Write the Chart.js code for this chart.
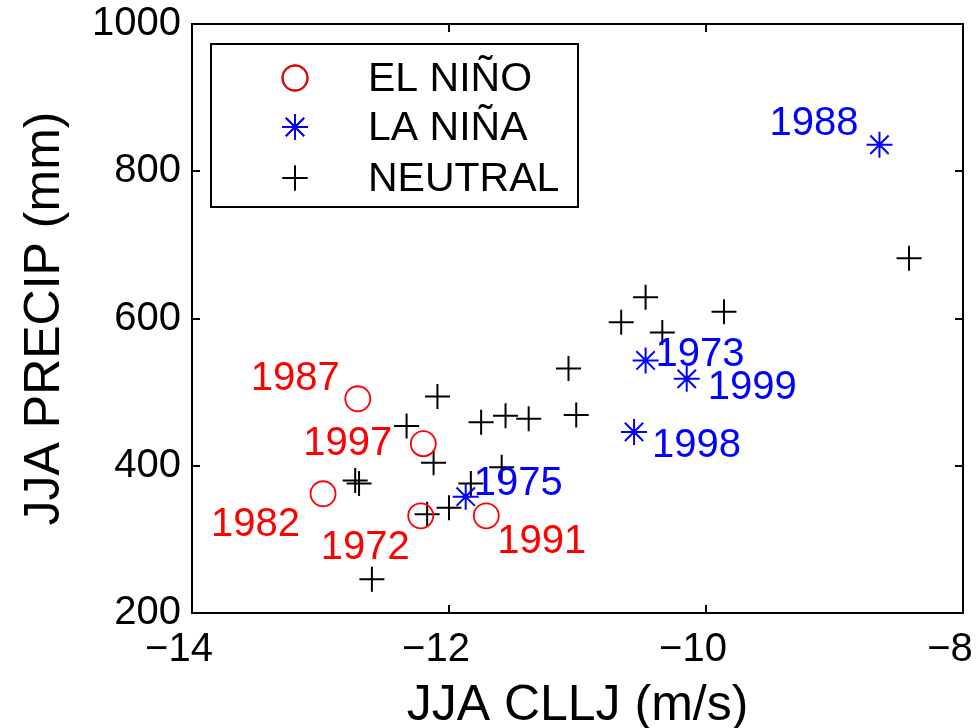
<!DOCTYPE html>
<html>
<head>
<meta charset="utf-8">
<script src="https://cdn.jsdelivr.net/npm/chart.js"></script>
<style>
  html, body { margin: 0; padding: 0; background: #fff; }
  #wrap { width: 978px; height: 728px; }
</style>
</head>
<body>
<div id="wrap"><canvas id="c" width="978" height="728"></canvas></div>
<script>
// ---------------- DATA ----------------
const elNinoYears  = [1987, 1997, 1982, 1972, 1991];
const elNinoCllj   = [-12.71, -12.20, -12.98, -12.22, -11.71];
const elNinoPrecip = [491, 430, 362, 332, 332];

const laNinaYears  = [1975, 1973, 1999, 1998, 1988];
const laNinaCllj   = [-11.87, -10.47, -10.15, -10.56, -8.65];
const laNinaPrecip = [358, 543, 518, 446, 836];

const neutralCllj   = [-8.42, -10.47, -10.66, -10.34, -9.86, -11.07, -11.01, -12.09, -11.75, -11.56,
                       -11.38, -12.33, -12.12, -12.73, -12.70, -11.59, -11.83, -12.00, -12.17, -12.60];
const neutralPrecip = [682, 629, 595, 581, 609, 532, 469, 494, 459, 468,
                       464, 454, 404, 380, 376, 398, 376, 343, 334, 246];

const seriesNames = ['EL NI\u00D1O', 'LA NI\u00D1A', 'NEUTRAL'];
const xTickValues = [-14, -12, -10, -8];
const yTickValues = [200, 400, 600, 800, 1000];
const xTitle = 'JJA CLLJ (m/s)';
const yTitle = 'JJA PRECIP (mm)';

// ---------------- STYLE ----------------
const FONT = '"Liberation Sans", Arial, Helvetica, sans-serif';
const RED = '#ff0000', BLUE = '#0000ff', BLACK = '#000000';

// label offsets (pixels) relative to each point: [dx, dy, align]
const labelOffsets = {
  1987: [-18, -20, 'right'],
  1997: [-31, 0, 'right'],
  1982: [-23, 31, 'right'],
  1972: [-11, 32, 'right'],
  1991: [11, 26, 'left'],
  1975: [8, -13, 'left'],
  1973: [10, -5, 'left'],
  1999: [21, 9, 'left'],
  1998: [18, 14, 'left'],
  1988: [-21, -21, 'right']
};

const toPts = (xs, ys) => xs.map((x, i) => ({x: x, y: ys[i]}));
const minus = v => String(v).replace('-', '\u2212');

// ---------------- PLUGINS ----------------
const frameTicks = {
  id: 'frameTicks',
  afterDatasetsDraw(chart) {
    const {ctx, chartArea: a, scales} = chart;
    const L = 8;
    ctx.save();
    ctx.strokeStyle = BLACK;
    ctx.lineWidth = 2;
    ctx.beginPath();
    scales.x.ticks.forEach(t => {
      const px = Math.round(scales.x.getPixelForValue(t.value));
      ctx.moveTo(px, a.bottom); ctx.lineTo(px, a.bottom - L);
      ctx.moveTo(px, a.top); ctx.lineTo(px, a.top + L);
    });
    scales.y.ticks.forEach(t => {
      const py = Math.round(scales.y.getPixelForValue(t.value));
      ctx.moveTo(a.left, py); ctx.lineTo(a.left + L, py);
      ctx.moveTo(a.right, py); ctx.lineTo(a.right - L, py);
    });
    ctx.stroke();
    ctx.strokeRect(a.left, a.top, a.right - a.left, a.bottom - a.top);
    ctx.restore();
  }
};

const yearLabels = {
  id: 'yearLabels',
  afterDatasetsDraw(chart) {
    const {ctx} = chart;
    ctx.save();
    ctx.font = '40px ' + FONT;
    ctx.textBaseline = 'middle';
    chart.data.datasets.forEach((ds, di) => {
      if (!ds.years) return;
      const meta = chart.getDatasetMeta(di);
      ctx.fillStyle = ds.borderColor;
      meta.data.forEach((el, i) => {
        const yr = ds.years[i];
        const off = labelOffsets[yr] || [10, 0, 'left'];
        ctx.textAlign = off[2];
        ctx.fillText(String(yr), el.x + off[0], el.y + off[1]);
      });
    });
    ctx.restore();
  }
};

const boxLegend = {
  id: 'boxLegend',
  afterDraw(chart) {
    const {ctx, chartArea: a} = chart;
    const bx = a.left + 19, by = a.top + 20, bw = 367, bh = 163;
    ctx.save();
    ctx.fillStyle = '#fff';
    ctx.fillRect(bx, by, bw, bh);
    ctx.strokeStyle = BLACK;
    ctx.lineWidth = 2;
    ctx.strokeRect(bx, by, bw, bh);
    const rows = [by + 34, by + 83, by + 134];
    ctx.font = '41px ' + FONT;
    ctx.textBaseline = 'middle';
    ctx.textAlign = 'left';
    chart.data.datasets.forEach((ds, i) => {
      const cy = rows[i], cx = bx + 84;
      Chart.helpers.drawPoint(ctx, {
        pointStyle: ds.pointStyle,
        radius: ds.pointRadius,
        rotation: 0,
        borderWidth: ds.borderWidth
      }, cx, cy);
      ctx.strokeStyle = ds.borderColor;
      ctx.lineWidth = ds.borderWidth;
      ctx.stroke();
      ctx.fillStyle = BLACK;
      ctx.fillText(ds.label, bx + 157, cy + 2);
    });
    ctx.restore();
  }
};

// ---------------- CHART ----------------
new Chart(document.getElementById('c'), {
  type: 'scatter',
  data: {
    datasets: [
      { label: seriesNames[0], years: elNinoYears, data: toPts(elNinoCllj, elNinoPrecip),
        pointStyle: 'circle', pointRadius: 12.5, borderWidth: 1.8,
        borderColor: RED, backgroundColor: 'rgba(0,0,0,0)' },
      { label: seriesNames[1], years: laNinaYears, data: toPts(laNinaCllj, laNinaPrecip),
        pointStyle: 'star', pointRadius: 13, borderWidth: 2,
        borderColor: BLUE, backgroundColor: BLUE },
      { label: seriesNames[2], data: toPts(neutralCllj, neutralPrecip),
        pointStyle: 'cross', pointRadius: 12.5, borderWidth: 2,
        borderColor: BLACK, backgroundColor: BLACK }
    ]
  },
  options: {
    responsive: false,
    animation: false,
    layout: { padding: { left: 0, top: 24, right: 15, bottom: 0 } },
    plugins: { legend: { display: false }, tooltip: { enabled: false } },
    elements: { point: { hoverRadius: 12.5 } },
    scales: {
      x: {
        type: 'linear', min: -14, max: -8,
        afterBuildTicks: s => { s.ticks = xTickValues.map(v => ({value: v})); },
        afterFit: s => { s.height = 115; s.paddingLeft = 0; s.paddingRight = 0; },
        grid: { display: false, drawTicks: false },
        border: { display: false },
        ticks: { color: BLACK, padding: 13, labelOffset: -13, font: { family: FONT, size: 40 }, callback: v => minus(v), maxRotation: 0 },
        title: { display: true, text: xTitle, color: BLACK, font: { family: FONT, size: 50, lineHeight: 0.88 }, padding: { top: 0, bottom: 0 } }
      },
      y: {
        type: 'linear', min: 200, max: 1000,
        afterBuildTicks: s => { s.ticks = yTickValues.map(v => ({value: v})); },
        afterFit: s => { s.width = 192; s.paddingTop = 0; s.paddingBottom = 0; },
        grid: { display: false, drawTicks: false },
        border: { display: false },
        ticks: { color: BLACK, padding: 11, font: { family: FONT, size: 40 }, callback: v => minus(v) },
        title: { display: true, text: yTitle, color: BLACK, font: { family: FONT, size: 50, lineHeight: 1 }, padding: { top: 20, bottom: 0 } }
      }
    }
  },
  plugins: [frameTicks, yearLabels, boxLegend]
});
</script>
</body>
</html>
